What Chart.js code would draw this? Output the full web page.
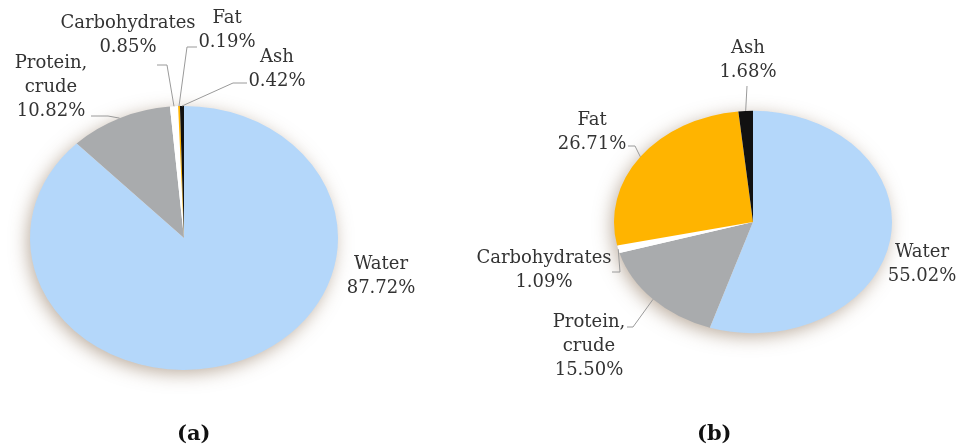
<!DOCTYPE html>
<html>
<head>
<meta charset="utf-8">
<script src="https://cdn.jsdelivr.net/npm/chart.js@4"></script>
<style>
  html, body { margin: 0; padding: 0; background: #fff; }
  #wrap { position: relative; width: 956px; height: 444px; overflow: hidden; }
  #wrap canvas { position: absolute; left: 0; top: 0; }
  .caption { position: absolute; top: 420px; font: bold 21px "DejaVu Serif", serif; color: #111; }
</style>
</head>
<body>
<div id="wrap">
  <canvas id="chartA" width="956" height="444"></canvas>
  <canvas id="chartB" width="956" height="444"></canvas>
  <div class="caption" style="left:177px">(a)</div>
  <div class="caption" style="left:697px">(b)</div>
</div>
<script>
// componentes y porcentajes de cada muestra
const components = ["Water", "Protein, crude", "Carbohydrates", "Fat", "Ash"];
const nameLines = [["Water"], ["Protein,", "crude"], ["Carbohydrates"], ["Fat"], ["Ash"]];
const sharesA = [87.72, 10.82, 0.85, 0.19, 0.42];
const sharesB = [55.02, 15.50, 1.09, 26.71, 1.68];
const sliceColors = ["#b4d7fa", "#a9abad", "#ffffff", "#ffb400", "#111111"];

const labelFont = '18px "DejaVu Serif", serif';
const lineH = 24;

// posición de las etiquetas y sus líneas guía
const layoutA = [
    { x: 381, y: 264 },
    { x: 51, y: 63, from: [91, 116], elbow: [108, 116] },
    { x: 128, y: 23, from: [157, 65], elbow: [167, 65] },
    { x: 227, y: 18, from: [197, 47], elbow: [187, 47] },
    { x: 277, y: 57, from: [247, 83], elbow: [233, 83] },
];
const layoutB = [
    { x: 922, y: 252 },
    { x: 589, y: 322, from: [627, 327], elbow: [633, 327] },
    { x: 544, y: 258, from: [612, 272], elbow: [620, 272] },
    { x: 592, y: 120, from: [628, 146], elbow: [635, 146] },
    { x: 748, y: 48, from: [747, 86] },
];

// aplasta el pastel en vertical, dibuja la sombra y las etiquetas
const ellipsePie = {
    id: "ellipsePie",
    beforeDatasetsDraw(chart, args, opts) {
        const ctx = chart.ctx;
        const arc = chart.getDatasetMeta(0).data[0];
        ctx.save();
        ctx.translate(arc.x, arc.y);
        ctx.scale(1, opts.squash);
        ctx.translate(-arc.x, -arc.y);

        ctx.save();
        ctx.shadowColor = "rgba(120, 90, 60, 0.5)";
        ctx.shadowBlur = 18;
        ctx.shadowOffsetX = -3;
        ctx.shadowOffsetY = 4;
        ctx.fillStyle = "#ffffff";
        ctx.beginPath();
        ctx.arc(arc.x, arc.y, arc.outerRadius - 1, 0, Math.PI * 2);
        ctx.fill();
        ctx.restore();
    },
    afterDatasetsDraw(chart) {
        chart.ctx.restore();
    },
    afterDraw(chart, args, opts) {
        const ctx = chart.ctx;
        const meta = chart.getDatasetMeta(0);
        const values = chart.data.datasets[0].data;
        ctx.save();
        ctx.font = labelFont;
        ctx.fillStyle = "#333333";
        ctx.textAlign = "center";
        ctx.textBaseline = "middle";
        ctx.strokeStyle = "#9a9a9a";
        ctx.lineWidth = 1;
        opts.layout.forEach((pos, i) => {
            const lines = nameLines[i].concat(values[i].toFixed(2) + "%");
            lines.forEach((t, j) => ctx.fillText(t, pos.x, pos.y + j * lineH));
            if (!pos.from) return;
            const el = meta.data[i];
            const mid = (el.startAngle + el.endAngle) / 2;
            const ex = el.x + Math.cos(mid) * el.outerRadius;
            const ey = el.y + Math.sin(mid) * el.outerRadius * opts.squash;
            ctx.beginPath();
            ctx.moveTo(pos.from[0], pos.from[1]);
            if (pos.elbow) ctx.lineTo(pos.elbow[0], pos.elbow[1]);
            ctx.lineTo(ex, ey);
            ctx.stroke();
        });
        ctx.restore();
    },
};

function pieChart(id, shares, padding, squash, layout) {
    const ctx = document.getElementById(id).getContext("2d");
    return new Chart(ctx, {
        type: "pie",
        data: {
            labels: components,
            datasets: [
                {
                    data: shares,
                    backgroundColor: sliceColors,
                    borderWidth: 0,
                    clip: false,
                },
            ],
        },
        options: {
            responsive: false,
            animation: false,
            events: [],
            layout: { padding: padding },
            plugins: {
                legend: { display: false },
                tooltip: { enabled: false },
                ellipsePie: { squash: squash, layout: layout },
            },
        },
        plugins: [ellipsePie],
    });
}

pieChart("chartA", sharesA, { left: 30, right: 618, top: 84, bottom: 52 }, 0.857, layoutA);
pieChart("chartB", sharesB, { left: 614, right: 64, top: 83, bottom: 83 }, 0.80, layoutB);
</script>
</body>
</html>
